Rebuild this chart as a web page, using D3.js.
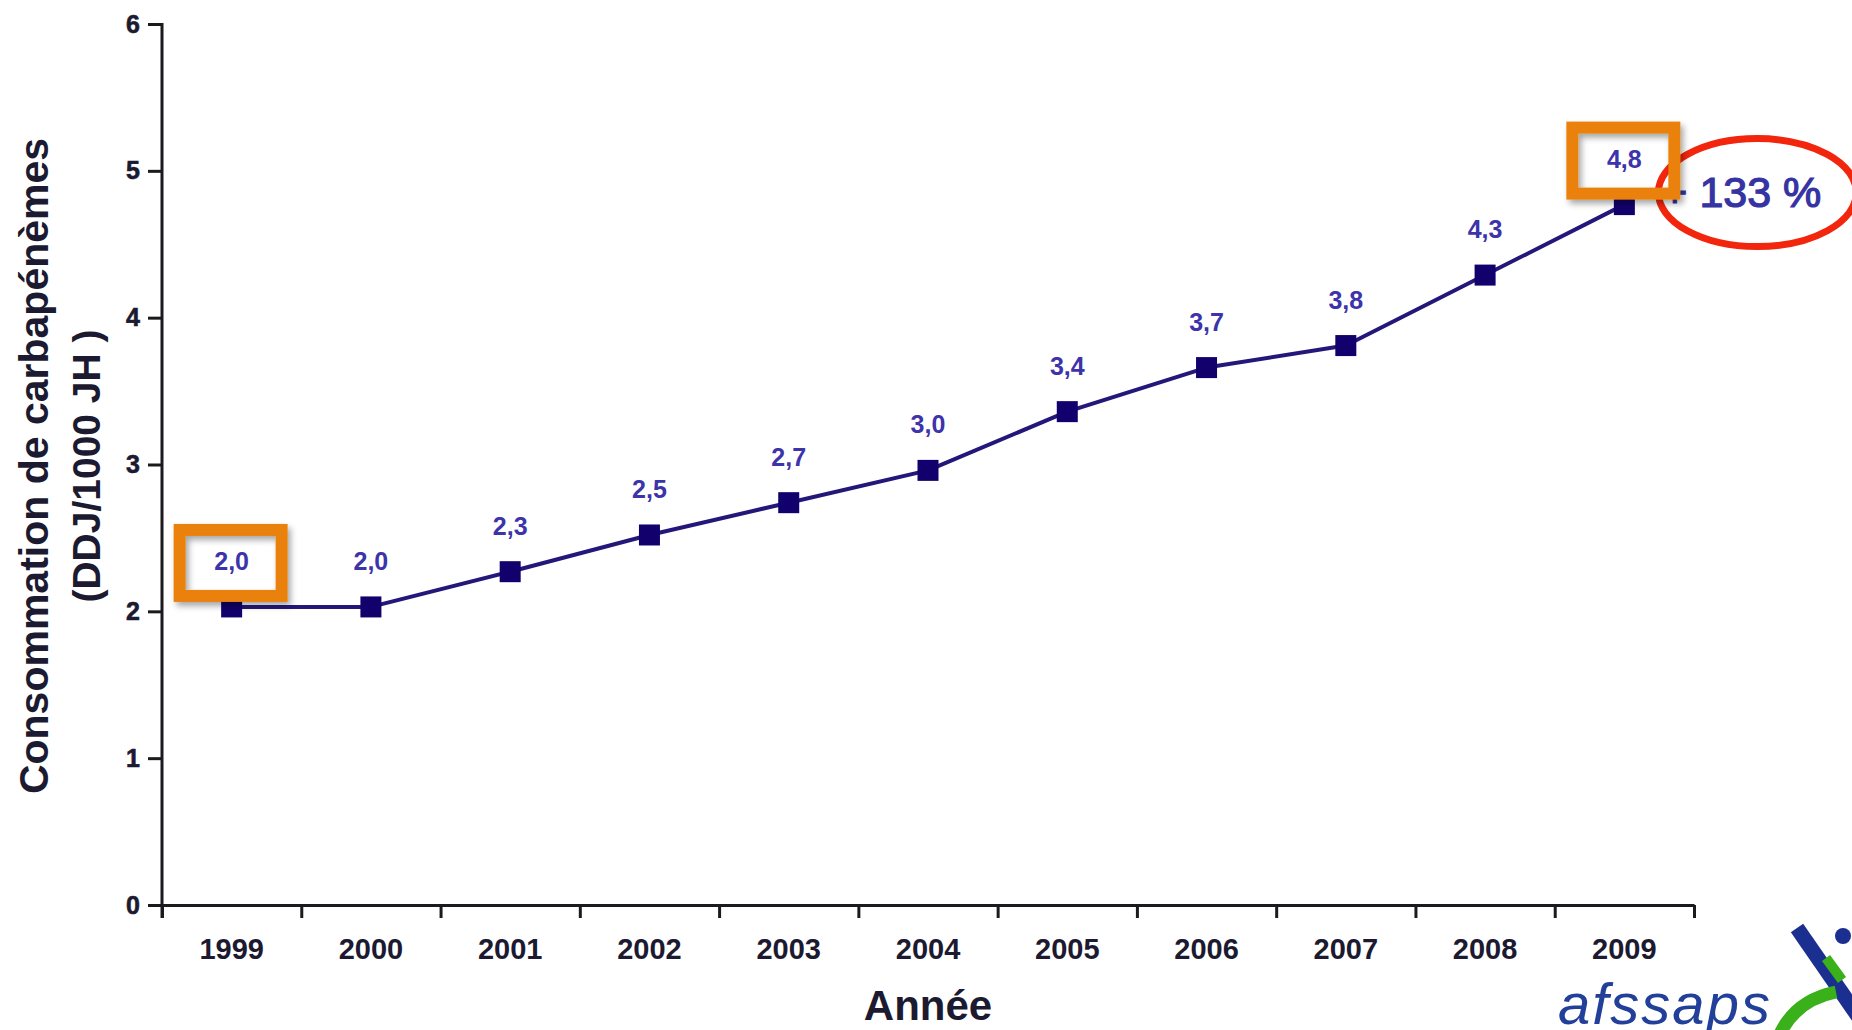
<!DOCTYPE html>
<html>
<head>
<meta charset="utf-8">
<script src="https://cdn.jsdelivr.net/npm/d3@7"></script>
<style>
  html, body { margin: 0; padding: 0; background: #fff; overflow: hidden; }
  svg { display: block; font-family: "Liberation Sans", Arial, sans-serif; }
</style>
</head>
<body>
<svg id="chart" width="1852" height="1030"></svg>
<script>
// Carbapenem consumption, DDJ per 1000 patient-days
const years = ["1999", "2000", "2001", "2002", "2003", "2004", "2005", "2006", "2007", "2008", "2009"];
const consumption = [2.03, 2.03, 2.27, 2.52, 2.74, 2.96, 3.36, 3.66, 3.81, 4.29, 4.77];
const yTicks = [0, 1, 2, 3, 4, 5, 6];
const highlightedYears = ["1999", "2009"];
const growthLabel = "+ 133 %";
const yTitleLines = ["Consommation de carbapénèmes", "(DDJ/1000 JH )"];
const xTitle = "Année";
const logoText = "afssaps";

const svg = d3.select("#chart");
const W = 1852, H = 1030;
svg.append("rect").attr("width", W).attr("height", H).attr("fill", "#fff");

const plot = { left: 162, right: 1694, top: 24, bottom: 905 };

const x = d3.scaleBand().domain(years).range([plot.left, plot.right]).paddingInner(0).paddingOuter(0);
const y = d3.scaleLinear().domain([0, 6]).range([plot.bottom, plot.top]);
const boundaries = d3.scaleLinear().domain([0, years.length]).range([plot.left, plot.right]);

const fmt = v => d3.format(".1f")(v).replace(".", ",");
const data = years.map((yr, i) => ({ year: yr, value: consumption[i] }));
const cx = d => x(d.year) + x.bandwidth() / 2;

const defs = svg.append("defs");
const shadow = defs.append("filter").attr("id", "boxShadow")
  .attr("x", "-20%").attr("y", "-20%").attr("width", "150%").attr("height", "150%");
shadow.append("feDropShadow").attr("dx", 3).attr("dy", 4).attr("stdDeviation", 3)
  .attr("flood-color", "#000").attr("flood-opacity", 0.35);

const axisColor = "#1b1b1f";
const textDark = "#1c1a30";

// Y axis
const yAxis = svg.append("g")
  .attr("transform", `translate(${plot.left},0)`)
  .call(d3.axisLeft(y).tickValues(yTicks).tickFormat(d3.format("d")).tickSize(14).tickSizeOuter(0).tickPadding(8));
yAxis.select(".domain").remove();
yAxis.selectAll(".tick line").attr("stroke", axisColor).attr("stroke-width", 3);
yAxis.selectAll(".tick text")
  .attr("fill", textDark).attr("stroke", textDark).attr("stroke-width", 0.6)
  .attr("font-size", 25).attr("font-weight", "bold")
  .attr("font-family", "'Liberation Sans', Arial, sans-serif");
svg.append("line")
  .attr("x1", plot.left).attr("x2", plot.left)
  .attr("y1", y(6) - 1).attr("y2", plot.bottom + 13)
  .attr("stroke", axisColor).attr("stroke-width", 3);

// X axis: tick marks at band boundaries, year labels at band centres
const xTickAxis = svg.append("g")
  .attr("transform", `translate(0,${plot.bottom})`)
  .call(d3.axisBottom(boundaries).ticks(years.length).tickSize(13).tickSizeOuter(0).tickFormat(""));
xTickAxis.select(".domain").attr("stroke", axisColor).attr("stroke-width", 3);
xTickAxis.selectAll(".tick line").attr("stroke", axisColor).attr("stroke-width", 3);

const xLabelAxis = svg.append("g")
  .attr("transform", `translate(0,${plot.bottom})`)
  .call(d3.axisBottom(x).tickSize(0).tickPadding(33));
xLabelAxis.select(".domain").remove();
xLabelAxis.selectAll(".tick text")
  .attr("fill", textDark).attr("font-size", 29).attr("font-weight", "bold")
  .attr("font-family", "'Liberation Sans', Arial, sans-serif");

// Axis titles
svg.append("text")
  .attr("x", (plot.left + plot.right) / 2).attr("y", 1020)
  .attr("text-anchor", "middle").attr("font-size", 42).attr("font-weight", "bold")
  .attr("fill", textDark).text(xTitle);

const yTitle = svg.append("text")
  .attr("transform", "translate(0,466) rotate(-90)")
  .attr("text-anchor", "middle").attr("font-weight", "bold").attr("fill", textDark);
yTitle.append("tspan").attr("x", 0).attr("y", 48).attr("font-size", 41).text(yTitleLines[0]);
yTitle.append("tspan").attr("x", 0).attr("y", 100).attr("font-size", 39).text(yTitleLines[1]);

// Series line and markers
const line = d3.line().x(cx).y(d => y(d.value));
svg.append("path").datum(data)
  .attr("d", line).attr("fill", "none")
  .attr("stroke", "#24177a").attr("stroke-width", 4).attr("stroke-linejoin", "round");

const markerSize = 21;
svg.append("g").selectAll("rect").data(data).join("rect")
  .attr("x", d => cx(d) - markerSize / 2).attr("y", d => y(d.value) - markerSize / 2)
  .attr("width", markerSize).attr("height", markerSize).attr("fill", "#12006c");

// Value labels
svg.append("g").selectAll("text").data(data).join("text")
  .attr("x", cx).attr("y", d => y(d.value) - 37)
  .attr("text-anchor", "middle").attr("font-size", 25).attr("font-weight", "bold")
  .attr("fill", "#3d33aa").text(d => fmt(d.value));

// Growth annotation at the last year
const last = data[data.length - 1];
svg.append("ellipse")
  .attr("cx", cx(last) + 133).attr("cy", y(last.value) - 12)
  .attr("rx", 99).attr("ry", 54)
  .attr("fill", "none").attr("stroke", "#f2260c").attr("stroke-width", 7);
svg.append("text")
  .attr("x", cx(last) + 38).attr("y", y(last.value) + 2)
  .attr("font-size", 43).attr("fill", "#3534a2")
  .attr("stroke", "#3534a2").attr("stroke-width", 1.2).text(growthLabel);

// Highlight boxes around first and last values
svg.append("g").selectAll("rect").data(data.filter(d => highlightedYears.includes(d.year))).join("rect")
  .attr("x", d => cx(d) - 52).attr("y", d => y(d.value) - 77)
  .attr("width", 102).attr("height", 66)
  .attr("fill", "none").attr("stroke", "#ea8108").attr("stroke-width", 12)
  .attr("filter", "url(#boxShadow)");

// Agency logo, bottom right
const logo = svg.append("g");
logo.append("text")
  .attr("x", 1558).attr("y", 1024)
  .attr("font-size", 58).attr("font-style", "italic").attr("fill", "#22409a")
  .attr("letter-spacing", 2).text(logoText);
logo.append("path")
  .attr("d", "M1797,928 L1862,1022")
  .attr("stroke", "#1a2f8f").attr("stroke-width", 15).attr("fill", "none");
logo.append("path")
  .attr("d", "M1780,1034 Q1796,1000 1836,992")
  .attr("stroke", "#3ab01a").attr("stroke-width", 13).attr("fill", "none");
logo.append("path")
  .attr("d", "M1826,958 L1842,980")
  .attr("stroke", "#3ab01a").attr("stroke-width", 10).attr("fill", "none");
logo.append("circle").attr("cx", 1843).attr("cy", 936).attr("r", 8).attr("fill", "#1a2f8f");
</script>
</body>
</html>
